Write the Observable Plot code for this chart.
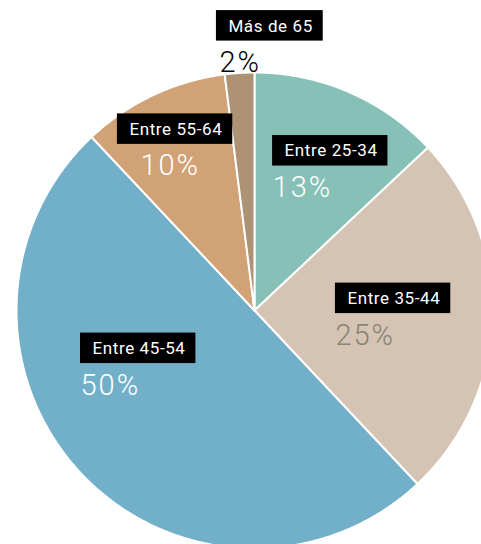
<!DOCTYPE html>
<html>
<head>
<meta charset="utf-8">
<script src="https://cdn.jsdelivr.net/npm/d3@7"></script>
<script src="https://cdn.jsdelivr.net/npm/@observablehq/plot@0.6"></script>
<style>
  html, body { margin: 0; padding: 0; background: #fff; overflow: hidden; }
</style>
</head>
<body>
<div id="chart"></div>
<script>
// ---- data ----
const categories = ["Entre 25-34", "Entre 35-44", "Entre 45-54", "Entre 55-64", "Más de 65"];
const shares = [13, 25, 50, 10, 2];
const colors = ["#86c0b6", "#d5c4b3", "#72afc8", "#d1a275", "#ad9276"];
const pctColors = ["#ffffff", "#878378", "#ffffff", "#ffffff", "#000000"];

// ---- layout (label anchors in pie-radius units: box left edge, box vertical centre) ----
const W = 481, H = 544;
const cx = 254, cy = 310, R = 238;
const labelAt = {
  "Entre 25-34": [0.076, 0.670, 0],
  "Entre 35-44": [0.340, 0.050, 0],
  "Entre 45-54": [-0.731, -0.160, 0],
  "Entre 55-64": [-0.576, 0.761, 23],
  "Más de 65": [-0.160, 1.195, 3]
};
const boxFont = "17px Roboto";
const boxLS = 0.6, pctLS = 2;
const px = 1 / R; // one pixel in data units

// slices
const pie = d3.pie().sort(null).value(d => d.share)(categories.map((c, i) => ({cat: c, share: shares[i]})));
const slicePts = [];
for (const a of pie) {
  const cat = a.data.cat;
  slicePts.push({cat, x: 0, y: 0});
  const n = Math.max(2, Math.ceil((a.endAngle - a.startAngle) / 0.005));
  for (let k = 0; k <= n; k++) {
    const t = a.startAngle + (a.endAngle - a.startAngle) * k / n;
    slicePts.push({cat, x: Math.sin(t), y: Math.cos(t)});
  }
  slicePts.push({cat, x: 0, y: 0});
}

// label boxes
const ctx = document.createElement("canvas").getContext("2d");
ctx.font = boxFont;
const labels = categories.map((c, i) => {
  const [lx, ly, pdx] = labelAt[c];
  const w = ctx.measureText(c).width + boxLS * (c.length - 1) + 23;
  return {cat: c, pct: shares[i] + "%", pcolor: pctColors[i], x: lx, y: ly, w, pdx};
});

const plot = Plot.plot({
  width: W, height: H,
  margin: 0,
  x: {domain: [-1, 1], range: [cx - R, cx + R], axis: null},
  y: {domain: [-1, 1], range: [cy + R, cy - R], axis: null},
  color: {domain: categories, range: colors, legend: false},
  style: {background: "#fff", overflow: "hidden"},
  marks: [
    Plot.line(slicePts, {x: "x", y: "y", z: "cat", fill: "cat", stroke: "#fff", strokeWidth: 2, strokeLinejoin: "round", curve: "linear"}),
    Plot.rect(labels, {x1: "x", x2: d => d.x + d.w * px, y1: d => d.y - 15 * px, y2: d => d.y + 15.5 * px, fill: "#000"}),
    Plot.text(labels, {x: "x", y: "y", text: "cat", dx: 12, textAnchor: "start", lineAnchor: "middle", fill: "#fff", fontSize: 17, fontFamily: "Roboto"}),
    Plot.text(labels, {x: d => d.x + d.pdx * px, y: d => d.y - 46 * px, text: "pct", textAnchor: "start", lineAnchor: "bottom", fill: d => d.pcolor, fontSize: 29, fontWeight: 300, fontFamily: "Roboto"})
  ]
});
const textGroups = plot.querySelectorAll('g[aria-label="text"]');
if (textGroups[0]) textGroups[0].setAttribute("letter-spacing", boxLS);
if (textGroups[1]) textGroups[1].setAttribute("letter-spacing", pctLS);
document.getElementById("chart").append(plot);
</script>
</body>
</html>
